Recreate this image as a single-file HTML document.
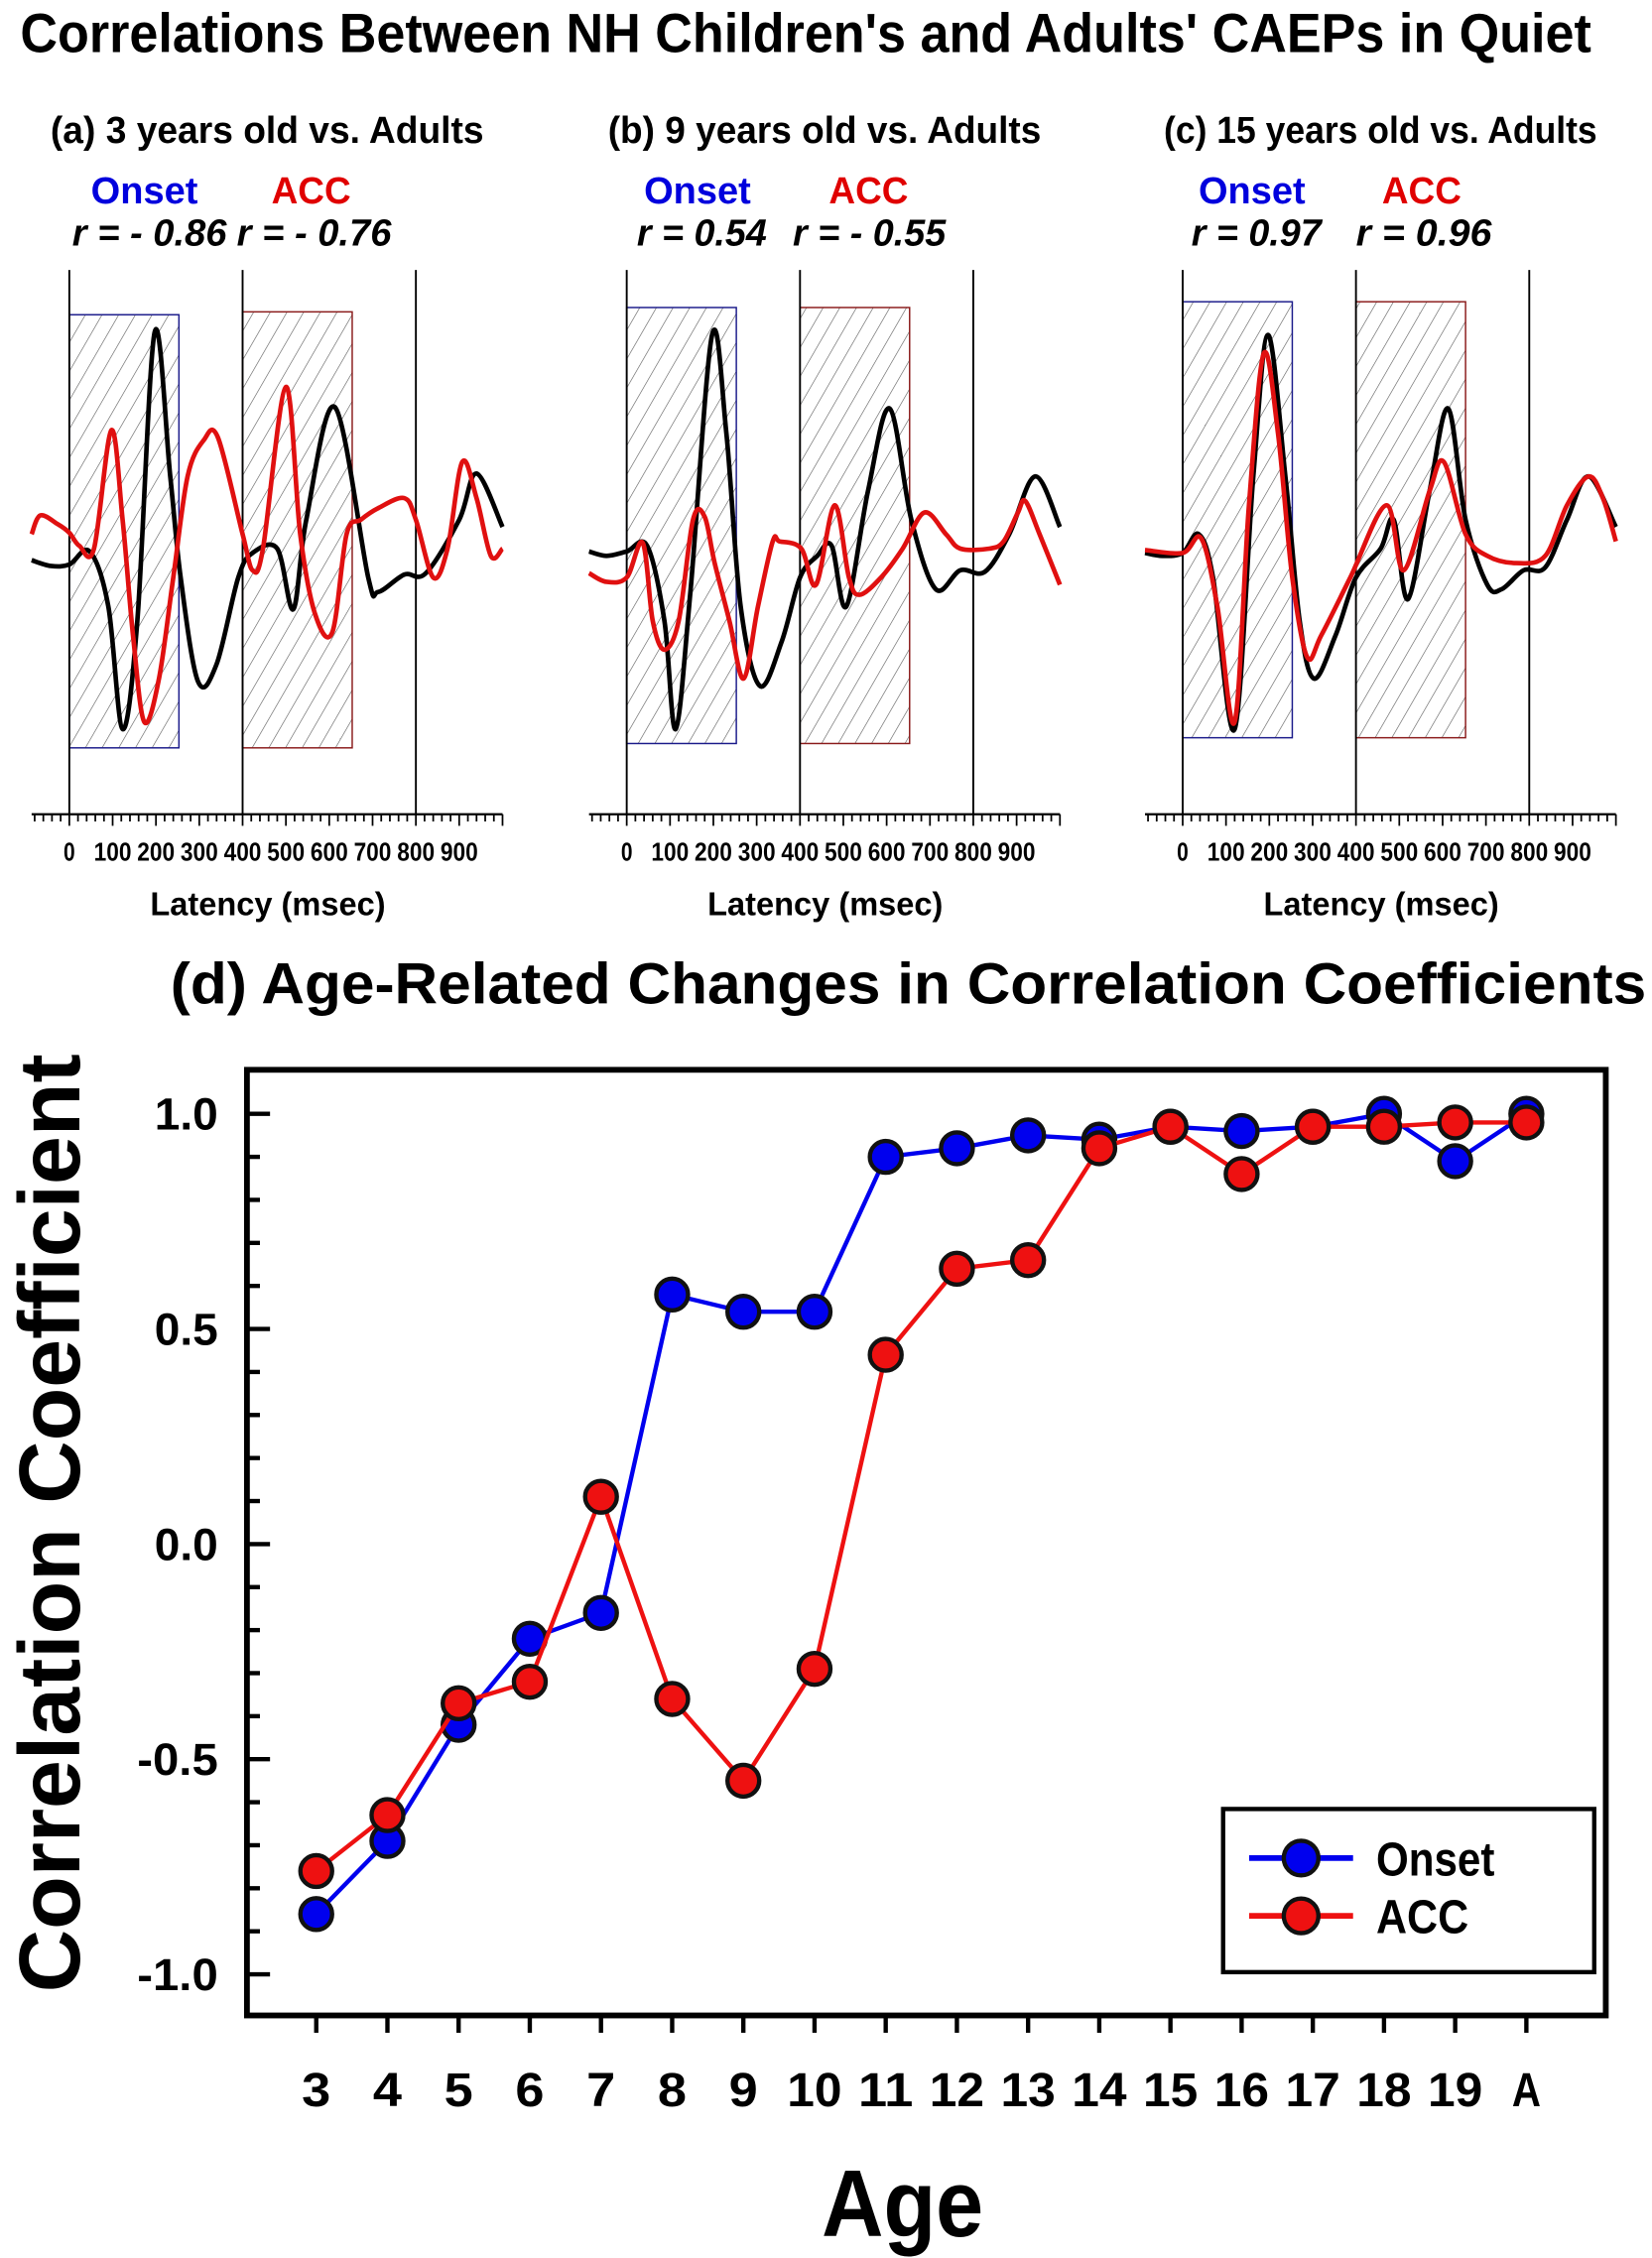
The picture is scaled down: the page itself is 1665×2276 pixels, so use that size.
<!DOCTYPE html>
<html><head><meta charset="utf-8"><style>
html,body{margin:0;padding:0;background:#fff}
svg{display:block}
text{font-family:"Liberation Sans",Arial,sans-serif;font-weight:bold}
</style></head><body>
<svg id="root" xmlns="http://www.w3.org/2000/svg" width="1665" height="2276" viewBox="0 0 1144 1564" preserveAspectRatio="none">
<defs>
<pattern id="hatch" patternUnits="userSpaceOnUse" width="10" height="10" patternTransform="rotate(30)">
<line x1="0" y1="0" x2="0" y2="10" stroke="#555" stroke-width="0.8"/>
</pattern>
</defs>
<text x="14" y="36" font-size="38" textLength="1088" lengthAdjust="spacingAndGlyphs">Correlations Between NH Children's and Adults' CAEPs in Quiet</text>
<g id="panels"></g>
<g id="chartd"></g>
</svg>
<script>
// ---- Waveform panels data (latency ms, amplitude arbitrary units) ----
const panelTitles = ["(a) 3 years old vs. Adults","(b) 9 years old vs. Adults","(c) 15 years old vs. Adults"];
const onsetR = ["r = - 0.86","r = 0.54","r = 0.97"];
const accR = ["r = - 0.76","r = - 0.55","r = 0.96"];
const latencyTicks = [0,100,200,300,400,500,600,700,800,900];
const aBlackMs = [-87,-43,0,47,90,123,157,197,233,257,297,340,390,423,480,517,547,613,690,713,773,823,900,940,1000];
const aBlackAmp = [2,-2,-1,8,-30,-115,-40,160,60,-10,-82,-70,-10,7,10,-32,30,108,-10,-20,-8,-7,30,62,25];
const aRedMs = [-87,-67,-27,0,23,57,97,123,147,173,207,240,273,310,343,400,423,447,500,533,567,607,640,673,713,773,800,840,873,907,940,973,1000];
const aRedAmp = [20,33,27,21,12,10,92,30,-50,-110,-80,-10,60,85,87,20,-5,10,122,20,-35,-48,20,30,38,45,30,-10,10,70,45,5,10];
const bBlackMs = [-87,-47,0,47,87,113,147,197,230,263,307,357,400,440,473,507,557,607,657,713,770,827,883,943,1000];
const bBlackAmp = [8,5,8,12,-40,-115,-20,158,90,-30,-85,-55,-10,5,12,-30,50,107,30,-18,-5,-6,20,60,25];
const bRedMs = [-87,-47,0,37,60,87,120,153,180,203,237,270,303,337,353,403,437,480,513,537,587,637,687,737,770,837,870,903,920,953,1000];
const bRedAmp = [-7,-13,-10,14,-40,-60,-40,30,32,0,-40,-80,-30,15,15,10,-15,40,-10,-22,-10,10,35,20,10,10,15,35,43,20,-15];
const cBlackMs = [-87,-47,0,37,70,120,163,197,237,270,303,353,400,457,487,520,570,613,653,703,737,787,837,887,937,1000];
const cBlackAmp = [7,5,7,20,-10,-115,60,158,60,-40,-80,-50,-10,10,30,-25,50,107,30,-15,-18,-5,-3,30,60,25];
const cRedMs = [-87,0,43,80,120,153,187,220,253,287,320,387,470,510,570,603,653,703,770,837,887,937,970,1000];
const cRedAmp = [9,7,17,-30,-110,40,145,90,-10,-65,-50,-10,40,-5,50,70,20,5,0,5,40,60,45,15];
const panelX0 = [48,434,819];
const waves = [[aBlackMs,aBlackAmp,aRedMs,aRedAmp],[bBlackMs,bBlackAmp,bRedMs,bRedAmp],[cBlackMs,cBlackAmp,cRedMs,cRedAmp]];
const boxTops = [[218,216],[213,213],[209,209]];
const boxBots = [518,515,511];
const onsetDx=[15,12,11], accDx=[140,140,138], r1Dx=[2,7,6], r1W=[107,90,90], r2Dx=[116,115,120], r2W=[107,106,94];

// ---- Panel (d) data ----
const ages = ["3","4","5","6","7","8","9","10","11","12","13","14","15","16","17","18","19","A"];
const onsetVals = [-0.86,-0.69,-0.42,-0.22,-0.16,0.58,0.54,0.54,0.90,0.92,0.95,0.94,0.97,0.96,0.97,1.0,0.89,1.0];
const accVals = [-0.76,-0.63,-0.37,-0.32,0.11,-0.36,-0.55,-0.29,0.44,0.64,0.66,0.92,0.97,0.86,0.97,0.97,0.98,0.98];
const yTicks = [1.0,0.5,0.0,-0.5,-1.0];

const NS="http://www.w3.org/2000/svg";
function mk(tag,attrs,parent){const e=document.createElementNS(NS,tag);for(const k in attrs)e.setAttribute(k,attrs[k]);parent.appendChild(e);return e;}
function smooth(pts){let d="M"+pts[0][0]+","+pts[0][1];for(let i=0;i<pts.length-1;i++){const p0=pts[i-1]||pts[i],p1=pts[i],p2=pts[i+1],p3=pts[i+2]||p2;const c1x=p1[0]+(p2[0]-p0[0])/6,c1y=p1[1]+(p2[1]-p0[1])/6,c2x=p2[0]-(p3[0]-p1[0])/6,c2y=p2[1]-(p3[1]-p1[1])/6;d+=" C"+c1x.toFixed(1)+","+c1y.toFixed(1)+" "+c2x.toFixed(1)+","+c2y.toFixed(1)+" "+p2[0].toFixed(1)+","+p2[1].toFixed(1);}return d;}

const panels=document.getElementById('panels');
const pxPerMs=0.3, baseY=390, axisY=564;
for(let p=0;p<3;p++){
  const x0=panelX0[p];
  const xs=ms=>x0+ms*pxPerMs;
  const ys=a=>baseY-a;
  const g=mk('g',{},panels);
  
  
  const t=mk('text',{x:x0-13,y:99,'font-size':26,textLength:300,lengthAdjust:'spacingAndGlyphs'},g);t.textContent=panelTitles[p];
  
  
  const o=mk('text',{x:x0+onsetDx[p],y:141,'font-size':26,fill:'#0000dd',textLength:74,lengthAdjust:'spacingAndGlyphs'},g);o.textContent="Onset";
  
  
  const a=mk('text',{x:x0+accDx[p],y:141,'font-size':26,fill:'#e00000',textLength:55,lengthAdjust:'spacingAndGlyphs'},g);a.textContent="ACC";
  
  
  const r1=mk('text',{x:x0+r1Dx[p],y:170,'font-size':26,'font-style':'italic',textLength:r1W[p],lengthAdjust:'spacingAndGlyphs'},g);r1.textContent=onsetR[p];
  
  
  const r2=mk('text',{x:x0+r2Dx[p],y:170,'font-size':26,'font-style':'italic',textLength:r2W[p],lengthAdjust:'spacingAndGlyphs'},g);r2.textContent=accR[p];
  
  
  const b1=mk('rect',{x:xs(0),y:boxTops[p][0],width:253*pxPerMs,height:boxBots[p]-boxTops[p][0],fill:'url(#hatch)',stroke:'#1a1a8a','stroke-width':1},g);
  
  
  const b2=mk('rect',{x:xs(400),y:boxTops[p][1],width:253*pxPerMs,height:boxBots[p]-boxTops[p][1],fill:'url(#hatch)',stroke:'#8a1a1a','stroke-width':1},g);
  
  
  [0,400,800].forEach(m=>{const l=mk('line',{x1:xs(m),y1:187,x2:xs(m),y2:axisY,stroke:'#000','stroke-width':1.3},g);
    
    });
  const ax=mk('line',{x1:xs(-87),y1:axisY,x2:xs(1000),y2:axisY,stroke:'#000','stroke-width':1.5},g);
  
  
  for(let m=-80;m<=1000;m+=20){const maj=m%100===0;mk('line',{x1:xs(m),y1:axisY,x2:xs(m),y2:axisY+(maj?8:5),stroke:'#000','stroke-width':1.2},g);}
  latencyTicks.forEach(m=>{const tt=mk('text',{x:xs(m),y:596,'font-size':18,'text-anchor':'middle',textLength:m===0?8:26,lengthAdjust:'spacingAndGlyphs'},g);tt.textContent=m;
    
    });
  const xl=mk('text',{x:x0+56,y:634,'font-size':23,textLength:163,lengthAdjust:'spacingAndGlyphs'},g);xl.textContent="Latency (msec)";
  
  
  const w=waves[p];
  const bl=mk('path',{d:smooth(w[0].map((m,i)=>[xs(m),ys(w[1][i])])),fill:'none',stroke:'#000','stroke-width':3.2},g);
  
  
  const rd=mk('path',{d:smooth(w[2].map((m,i)=>[xs(m),ys(w[3][i])])),fill:'none',stroke:'#e01010','stroke-width':3.2},g);
  
  
}

// ---- Panel d ----
const cd=document.getElementById('chartd');
const L=171,R=1112,T=741,B=1396;
const xScale=i=>219+i*(1057-219)/(ages.length-1);
const yScale=v=>1069.5-v*298;
const dt=mk('text',{x:118,y:695,'font-size':40,textLength:1022,lengthAdjust:'spacingAndGlyphs'},cd);dt.textContent="(d) Age-Related Changes in Correlation Coefficients";


const fr=mk('rect',{x:L,y:T,width:R-L,height:B-T,fill:'none',stroke:'#000','stroke-width':4},cd);


for(let k=-11;k<=10;k++){const v=k/10;const yy=yScale(v);if(yy<T||yy>B)continue;const maj=k%5===0;mk('line',{x1:L,y1:yy,x2:L+(maj?16:9),y2:yy,stroke:'#000','stroke-width':3},cd);}
yTicks.forEach(v=>{const s=v.toFixed(1);const tt=mk('text',{x:L-20,y:yScale(v)+11,'font-size':31,'text-anchor':'end',textLength:s.length>3?56:44,lengthAdjust:'spacingAndGlyphs'},cd);tt.textContent=s;
  
  });
ages.forEach((a,i)=>{mk('line',{x1:xScale(i),y1:B,x2:xScale(i),y2:B+12,stroke:'#000','stroke-width':3},cd);
  const tt=mk('text',{x:xScale(i),y:1459,'font-size':33,'text-anchor':'middle',textLength:a.length>1?38:20,lengthAdjust:'spacingAndGlyphs'},cd);tt.textContent=a;
  
  });
const yl=mk('text',{x:0,y:0,'font-size':60,'text-anchor':'middle',transform:'translate(55,1055) rotate(-90)',textLength:650,lengthAdjust:'spacingAndGlyphs'},cd);yl.textContent="Correlation Coefficient";


const xl=mk('text',{x:625,y:1549,'font-size':66,'text-anchor':'middle',textLength:112,lengthAdjust:'spacingAndGlyphs'},cd);xl.textContent="Age";


function series(vals,color,name){
  const g=mk('g',{},cd);
  
  
  const pl=mk('polyline',{points:vals.map((v,i)=>xScale(i)+","+yScale(v)).join(" "),fill:'none',stroke:color,'stroke-width':3},g);
  
  
  vals.forEach((v,i)=>{const c=mk('circle',{cx:xScale(i),cy:yScale(v),r:11,fill:color,stroke:'#111','stroke-width':3},g);
    
    });
}
series(onsetVals,'#0000ee','onset');
series(accVals,'#ee1111','acc');
const lg=mk('g',{},cd);


mk('rect',{x:847,y:1253,width:257,height:113,fill:'#fff',stroke:'#000','stroke-width':3},lg);
[['Onset','#0000ee',1287,82],['ACC','#ee1111',1327,64]].forEach(([n,c,y,w])=>{
  const e=mk('g',{},lg);
  
  
  mk('line',{x1:865,y1:y,x2:937,y2:y,stroke:c,'stroke-width':4},e);
  mk('circle',{cx:901,cy:y,r:12,fill:c,stroke:'#111','stroke-width':3},e);
  const t=mk('text',{x:953,y:y+12,'font-size':33,textLength:w,lengthAdjust:'spacingAndGlyphs'},e);t.textContent=n;
});
</script>
</body></html>
